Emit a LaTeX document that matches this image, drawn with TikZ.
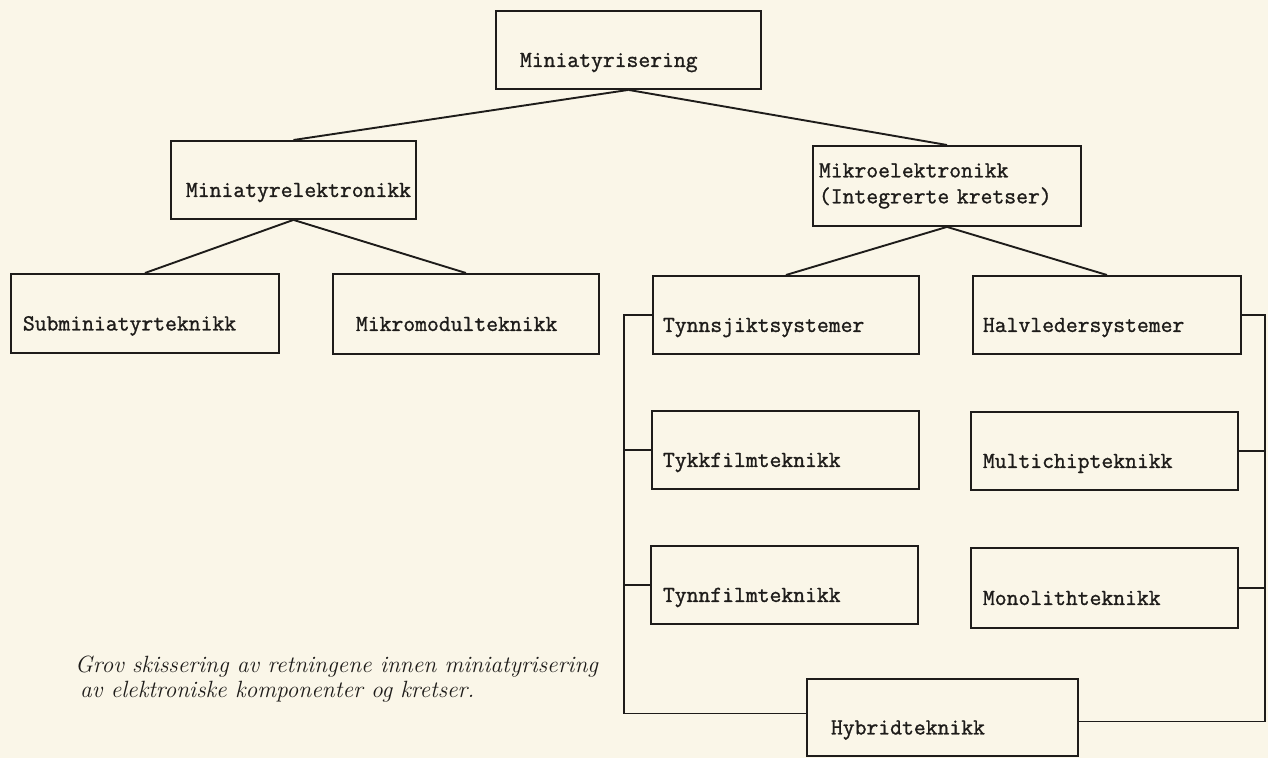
\documentclass[tikz,border=0pt]{standalone}
\usepackage{fontspec}
\newfontfamily\typew{Latin Modern Mono}[FakeBold=1.2]
\definecolor{paper}{RGB}{250,246,232}
\definecolor{ink}{RGB}{30,28,26}
\tikzset{
  box/.style={draw=ink, line width=1.9pt, anchor=north west, inner sep=0pt, align=left,
    font=\typew\fontsize{23}{26}\selectfont, text=ink},
  lowtext/.style={text height=40pt, text depth=6pt},
  link/.style={draw=ink, line width=1.9pt},
  caption/.style={anchor=north west, align=left, inner sep=0pt, text=ink,
    font=\itshape\fontsize{23.5}{25}\selectfont},
}
\begin{document}
\begin{tikzpicture}[x=1pt,y=-1pt]
\fill[paper] (0,0) rectangle (1268,758);
\useasboundingbox (0,0) rectangle (1268,758);

\node[box, lowtext, text width=265pt, minimum height=78pt] (top) at (495,10) {\hspace*{24pt}Miniatyrisering};
\node[box, lowtext, text width=245pt, minimum height=78pt] (mel) at (170,140) {\hspace*{15pt}Miniatyrelektronikk};
\node[box, text width=268pt, minimum height=80pt] (mik) at (812,145) {\hspace*{6pt}Mikroelektronikk\\\hspace*{6pt}(Integrerte kretser)};
\node[box, lowtext, text width=268pt, minimum height=79pt] (sub) at (10,273) {\hspace*{12pt}Subminiatyrteknikk};
\node[box, lowtext, text width=266pt, minimum height=80pt] (mmd) at (332,273) {\hspace*{23pt}Mikromodulteknikk};
\node[box, lowtext, text width=266pt, minimum height=78pt] (tsj) at (652,275) {\hspace*{10pt}Tynnsjiktsystemer};
\node[box, lowtext, text width=268pt, minimum height=78pt] (hls) at (972,275) {\hspace*{10pt}Halvledersystemer};
\node[box, lowtext, text width=267pt, minimum height=78pt] (tkf) at (651,410) {\hspace*{11pt}Tykkfilmteknikk};
\node[box, lowtext, text width=267pt, minimum height=78pt] (mcp) at (970,411) {\hspace*{12pt}Multichipteknikk};
\node[box, lowtext, text width=267pt, minimum height=78pt] (tnf) at (650,545) {\hspace*{12pt}Tynnfilmteknikk};
\node[box, lowtext, text width=267pt, minimum height=80pt] (mon) at (970,547) {\hspace*{12pt}Monolithteknikk};
\node[box, lowtext, text width=271pt, minimum height=77pt] (hyb) at (806,678) {\hspace*{24pt}Hybridteknikk};

\node[caption] (cap) at (75,656) {Grov skissering av retningene innen miniatyrisering\\\hspace*{5pt}av elektroniske komponenter og kretser.};

\draw[link] (top.south) -- (mel.north);
\draw[link] (top.south) -- (mik.north);
\draw[link] (mel.south) -- (sub.north);
\draw[link] (mel.south) -- (mmd.north);
\draw[link] (mik.south) -- (tsj.north);
\draw[link] (mik.south) -- (hls.north);

\coordinate (L) at (624,0);
\coordinate (R) at (1265,0);
\draw[link] (tsj.west) -- (tsj.west -| L) |- ([yshift=4pt]hyb.west);
\draw[link] (tkf.west) -- (tkf.west -| L);
\draw[link] (tnf.west) -- (tnf.west -| L);
\draw[link] (hls.east) -- (hls.east -| R) |- ([yshift=-4pt]hyb.east);
\draw[link] (mcp.east) -- (mcp.east -| R);
\draw[link] (mon.east) -- (mon.east -| R);
\end{tikzpicture}
\end{document}
